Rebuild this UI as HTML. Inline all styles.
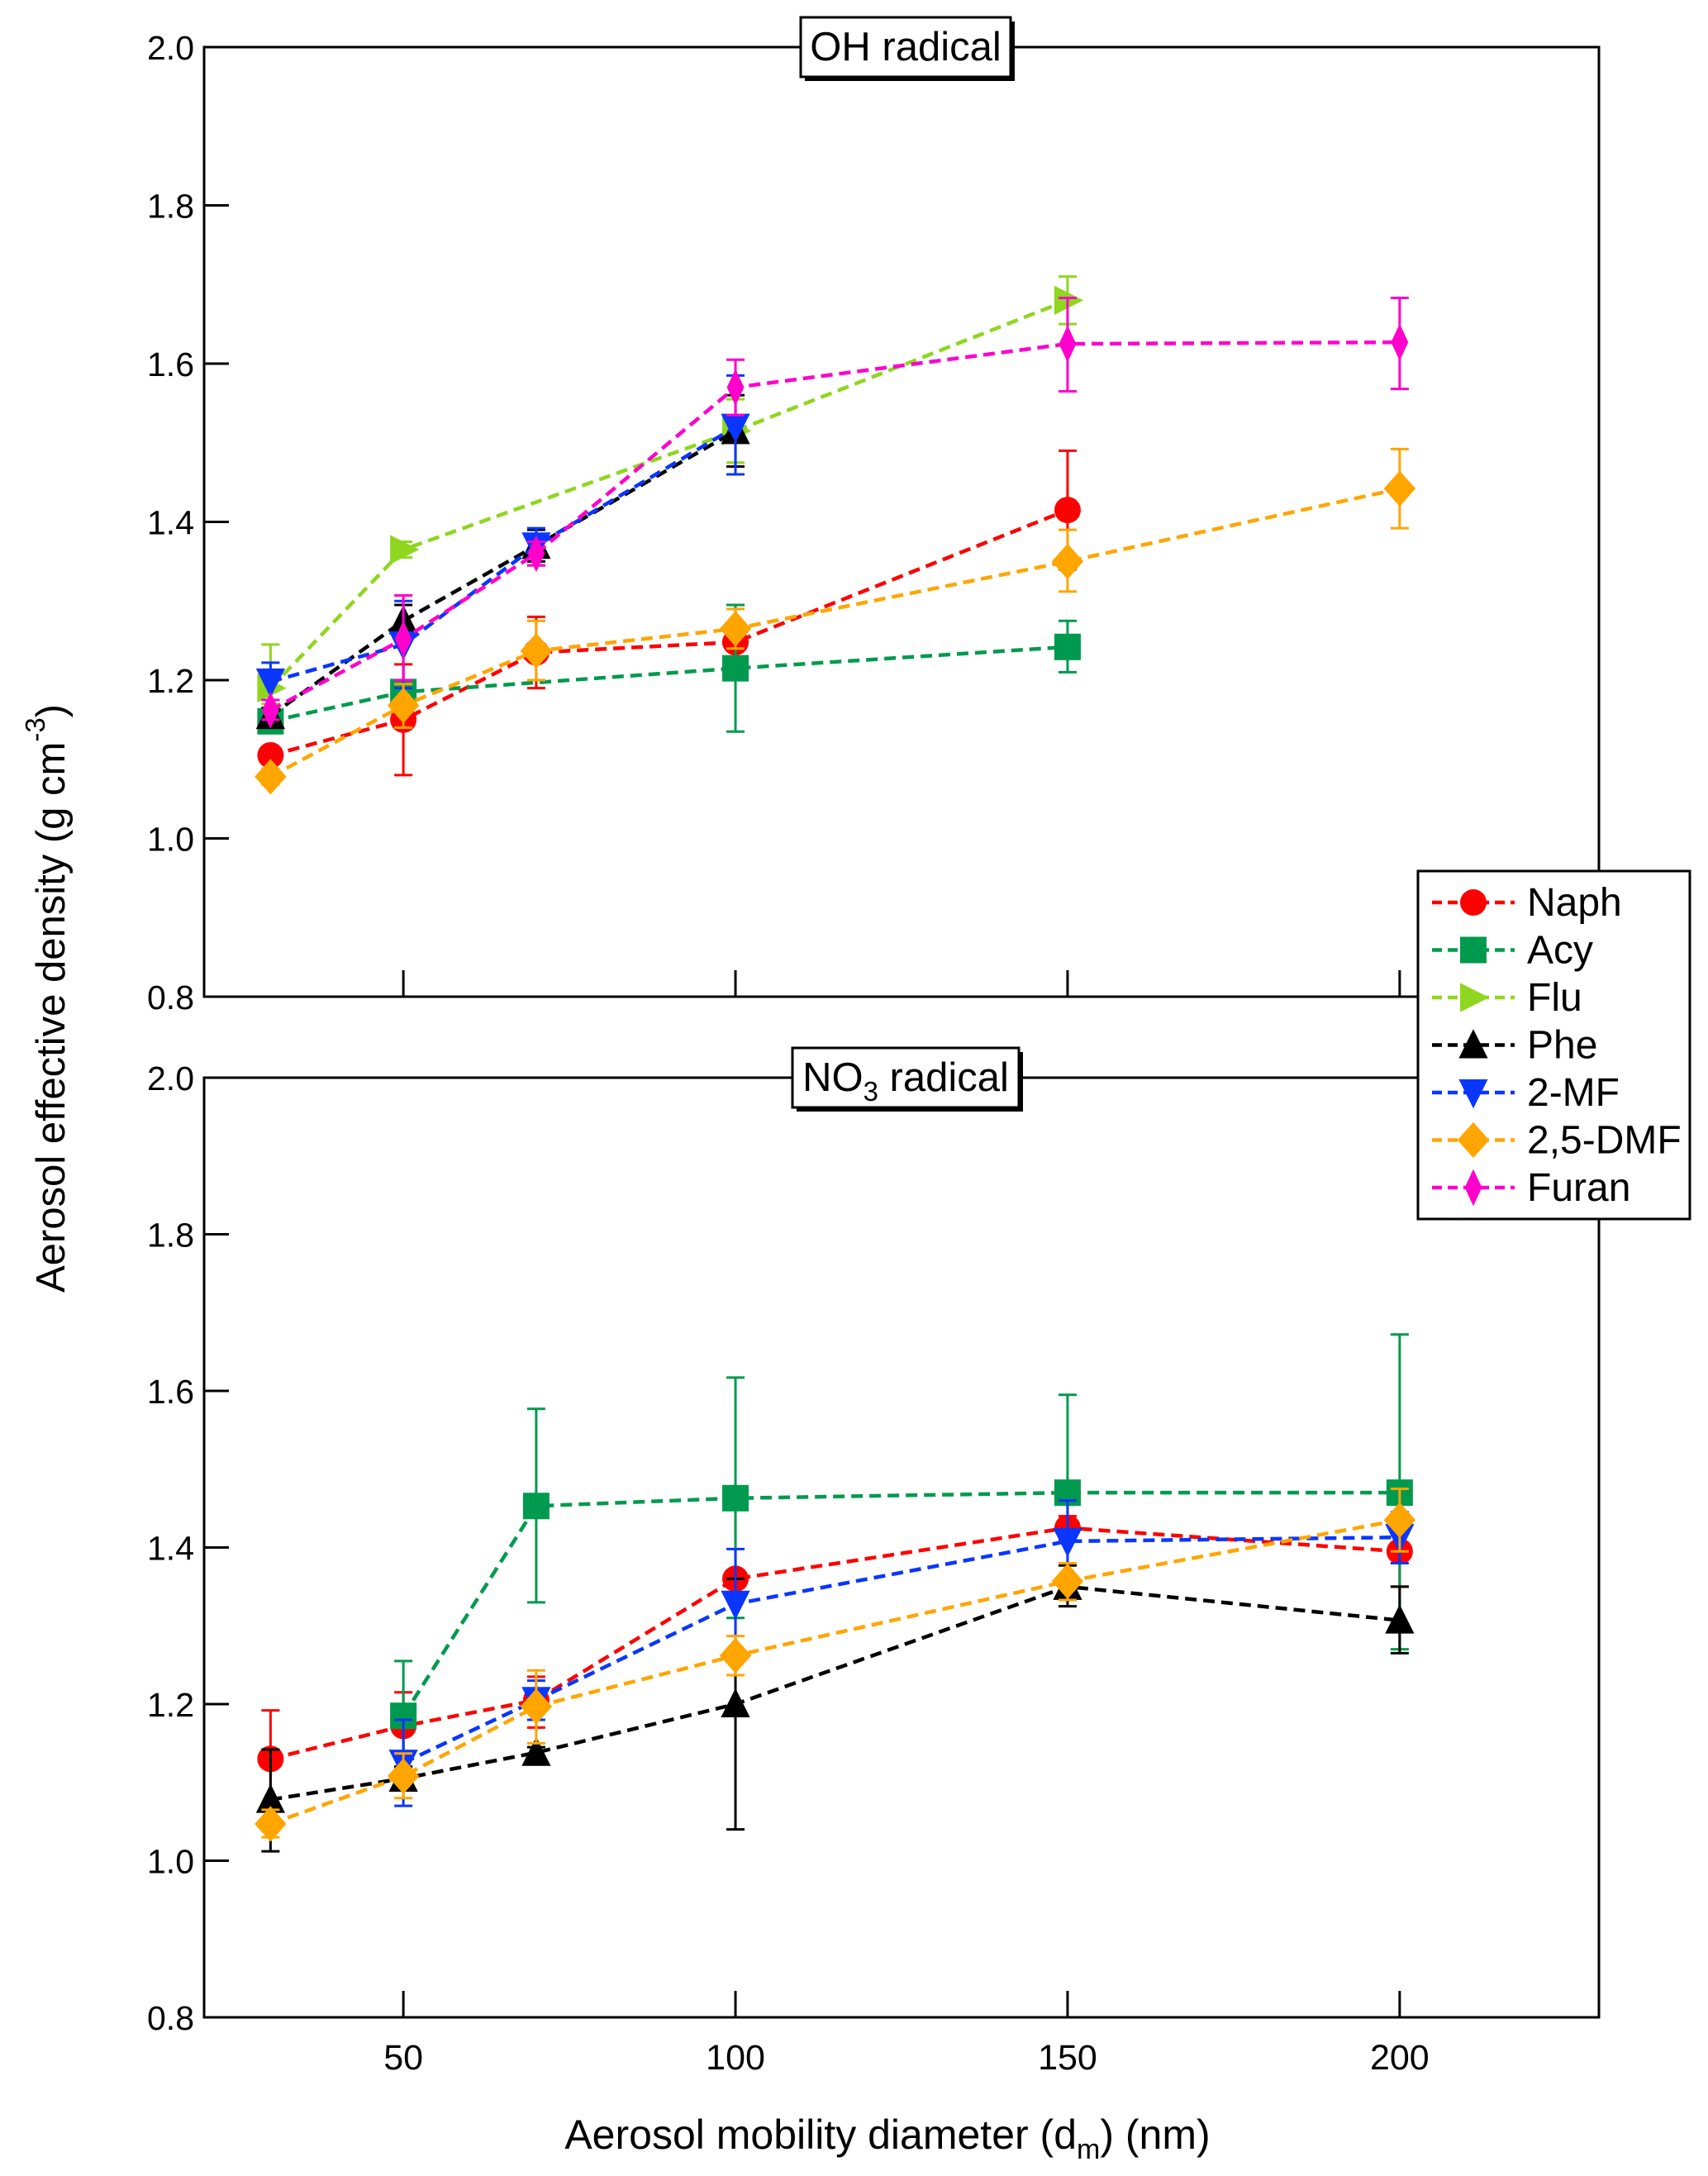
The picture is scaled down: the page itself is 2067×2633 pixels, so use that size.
<!DOCTYPE html>
<html><head><meta charset="utf-8"><style>
html,body{margin:0;padding:0;background:#fff;}
svg{display:block;font-family:"Liberation Sans",Arial,sans-serif;}
</style></head><body>
<svg id="chart" width="2067" height="2633" viewBox="0 0 2067 2633" xmlns="http://www.w3.org/2000/svg">
<g id="root"></g>
</svg>
<script>
// ---- data ----
const seriesNames = ["Naph","Acy","Flu","Phe","2-MF","2,5-DMF","Furan"];
const seriesColors = ["#ff0000","#009a4e","#8fd61f","#000000","#0a36ff","#ffa500","#ff00cc"];
const seriesMarkers = ["circle","square","right","up","down","diamond","thin"];
const xTicks = [50,100,150,200];
const yTicks = [0.8,1.0,1.2,1.4,1.6,1.8,2.0];
const yTickLabels = ["0.8","1.0","1.2","1.4","1.6","1.8","2.0"];

// OH radical panel
const ohX = [[30,50,70,100,150],[30,50,100,150],[30,50,100,150],[30,50,70,100],[30,50,70,100],[30,50,70,100,150,200],[30,50,70,100,150,200]];
const ohY = [[1.105,1.150,1.235,1.248,1.415],[1.148,1.185,1.215,1.242],[1.190,1.365,1.515,1.680],[1.155,1.275,1.370,1.515],[1.198,1.245,1.370,1.520],[1.078,1.168,1.237,1.265,1.350,1.442],[1.162,1.252,1.360,1.570,1.625,1.627]];
const ohLo = [[1.095,1.080,1.190,1.200,1.340],[1.140,1.170,1.135,1.210],[1.170,1.355,1.475,1.650],[1.145,1.255,1.350,1.470],[1.175,1.190,1.345,1.460],[1.068,1.140,1.200,1.240,1.312,1.392],[1.150,1.200,1.345,1.535,1.565,1.568]];
const ohHi = [[1.115,1.220,1.280,1.295,1.490],[1.160,1.200,1.295,1.275],[1.245,1.375,1.555,1.710],[1.165,1.295,1.390,1.560],[1.222,1.300,1.392,1.585],[1.088,1.195,1.275,1.290,1.390,1.492],[1.175,1.307,1.375,1.605,1.683,1.683]];

// NO3 radical panel
const noX = [[30,50,70,100,150,200],[50,70,100,150,200],[],[30,50,70,100,150,200],[50,70,100,150,200],[30,50,70,100,150,200],[]];
const noY = [[1.130,1.172,1.205,1.360,1.425,1.395],[1.185,1.453,1.463,1.470,1.470],[],[1.078,1.105,1.138,1.200,1.350,1.307],[1.125,1.205,1.328,1.408,1.413],[1.047,1.108,1.197,1.262,1.357,1.435],[]];
const noLo = [[1.070,1.130,1.170,1.350,1.410,1.350],[1.120,1.330,1.310,1.345,1.270],[],[1.012,1.090,1.130,1.040,1.325,1.265],[1.070,1.180,1.258,1.360,1.380],[1.030,1.080,1.150,1.237,1.333,1.395],[]];
const noHi = [[1.192,1.215,1.235,1.450,1.440,1.440],[1.255,1.577,1.617,1.595,1.672],[],[1.142,1.120,1.145,1.360,1.377,1.350],[1.180,1.230,1.398,1.460,1.445],[1.065,1.137,1.243,1.287,1.380,1.475],[]];

// ---- layout ----
const NS="http://www.w3.org/2000/svg";
const root=document.getElementById('root');
const L=247,R=1935,X0=20,X1=230;
function xs(v){return L+(v-X0)/(X1-X0)*(R-L);}
function mk(tag,attrs,parent){const e=document.createElementNS(NS,tag);for(const k in attrs)e.setAttribute(k,attrs[k]);(parent||root).appendChild(e);return e;}

function marker(g,type,cx,cy,col,s){
  let e;
  if(type==="circle")e=mk('circle',{cx:cx,cy:cy,r:s,fill:col},g);
  else if(type==="square")e=mk('rect',{x:cx-s,y:cy-s,width:2*s,height:2*s,fill:col},g);
  else if(type==="right")e=mk('polygon',{points:`${cx-s},${cy-s*1.1} ${cx+s*1.2},${cy} ${cx-s},${cy+s*1.1}`,fill:col},g);
  else if(type==="up")e=mk('polygon',{points:`${cx},${cy-s*1.2} ${cx+s*1.1},${cy+s} ${cx-s*1.1},${cy+s}`,fill:col},g);
  else if(type==="down")e=mk('polygon',{points:`${cx},${cy+s*1.2} ${cx+s*1.1},${cy-s} ${cx-s*1.1},${cy-s}`,fill:col},g);
  else if(type==="diamond")e=mk('polygon',{points:`${cx},${cy-s*1.35} ${cx+s*1.2},${cy} ${cx},${cy+s*1.35} ${cx-s*1.2},${cy}`,fill:col},g);
  else e=mk('polygon',{points:`${cx},${cy-s*1.4} ${cx+s*0.65},${cy} ${cx},${cy+s*1.4} ${cx-s*0.65},${cy}`,fill:col},g);
  return e;
}

function panel(name,T,B,X,Y,LO,HI,title,sub){
  const ys=v=>B-(v-0.8)/1.2*(B-T);
  const g=mk('g',{});
  
  
  const frame=mk('rect',{x:L,y:T,width:R-L,height:B-T,fill:'none',stroke:'#000','stroke-width':3},g);
  
  
  yTicks.forEach((v,i)=>{
    const y=ys(v);
    const t=mk('line',{x1:L,y1:y,x2:L+30,y2:y,stroke:'#000','stroke-width':3},g);
    
    
    const lb=mk('text',{x:L-12,y:y+15,'text-anchor':'end','font-size':41},g);
    lb.textContent=yTickLabels[i];
    
    
  });
  xTicks.forEach(v=>{
    const x=xs(v);
    const t=mk('line',{x1:x,y1:B,x2:x,y2:B-32,stroke:'#000','stroke-width':3},g);
    
    
  });
  for(let s=0;s<X.length;s++){
    if(!X[s].length)continue;
    const sg=mk('g',{},g);
    
    
    const col=seriesColors[s];
    const pts=X[s].map((x,i)=>xs(x)+','+ys(Y[s][i])).join(' ');
    const pl=mk('polyline',{points:pts,fill:'none',stroke:col,'stroke-width':4.5,'stroke-dasharray':'14,8'},sg);
    
    
    X[s].forEach((x,i)=>{
      const cx=xs(x),lo=ys(LO[s][i]),hi=ys(HI[s][i]);
      const eb=mk('path',{d:`M${cx},${lo}V${hi}M${cx-11},${lo}H${cx+11}M${cx-11},${hi}H${cx+11}`,stroke:col,'stroke-width':3,fill:'none'},sg);
      
      
      const m=marker(sg,seriesMarkers[s],cx,ys(Y[s][i]),col,16);
      
      
    });
  }
  // title box
  const bw=sub?274:254,bx=1096-bw/2,by=T-36;
  const tb=mk('g',{},g);
  
  
  mk('rect',{x:bx+5,y:by+5,width:bw,height:72,fill:'#000'},tb);
  mk('rect',{x:bx,y:by,width:bw,height:72,fill:'#fff',stroke:'#000','stroke-width':3},tb);
  const tt=mk('text',{x:bx+bw/2,y:by+52,'text-anchor':'middle','font-size':49},tb);
  
  
  if(sub){tt.innerHTML='NO<tspan font-size="33" dy="12">3</tspan><tspan dy="-12"> radical</tspan>';}
  else tt.textContent=title;
}
panel('oh',57,1206,ohX,ohY,ohLo,ohHi,'OH radical',false);
panel('no3',1304,2441,noX,noY,noLo,noHi,'NO3 radical',true);

// x tick labels
xTicks.forEach(v=>{
  const t=mk('text',{x:xs(v),y:2504,'text-anchor':'middle','font-size':43});
  t.textContent=String(v);
  
  
});
const xt=mk('text',{x:1074,y:2600,'text-anchor':'middle','font-size':50});
xt.innerHTML='Aerosol mobility diameter (d<tspan font-size="34" dy="12">m</tspan><tspan dy="-12">) (nm)</tspan>';


const yt=mk('text',{x:0,y:0,'text-anchor':'middle','font-size':49,transform:'translate(78,1208) rotate(-90)'});
yt.innerHTML='Aerosol effective density (g cm<tspan font-size="33" dy="-24">-3</tspan><tspan dy="24">)</tspan>';



// legend
const lg=mk('g',{});


mk('rect',{x:1716,y:1054,width:329,height:421,fill:'#fff',stroke:'#000','stroke-width':3},lg);
seriesNames.forEach((n,i)=>{
  const y=1092+i*57.5;
  const e=mk('g',{},lg);
  
  
  mk('line',{x1:1733,y1:y,x2:1833,y2:y,stroke:seriesColors[i],'stroke-width':4.5,'stroke-dasharray':'12,7'},e);
  marker(e,seriesMarkers[i],1783,y,seriesColors[i],16);
  const t=mk('text',{x:1848,y:y+16,'font-size':48},e);
  t.textContent=n;
});
</script>
</body></html>
